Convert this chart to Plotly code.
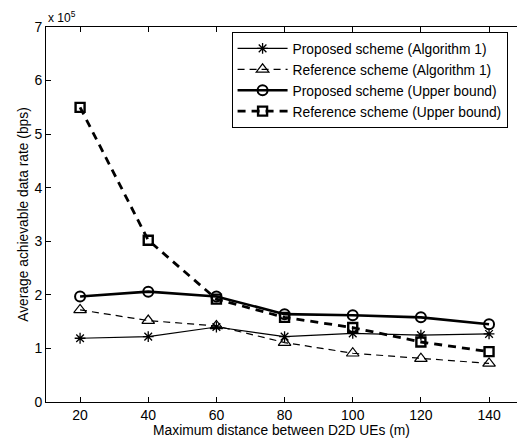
import plotly.graph_objects as go

# Maximum distance between D2D UEs (m)
distance = [20, 40, 60, 80, 100, 120, 140]

# Average achievable data rate, in units of 1e5 bps
proposed_alg1 = [1.19, 1.22, 1.40, 1.22, 1.28, 1.25, 1.27]
reference_alg1 = [1.72, 1.52, 1.42, 1.11, 0.91, 0.81, 0.72]
proposed_upper = [1.97, 2.06, 1.97, 1.64, 1.62, 1.58, 1.45]
reference_upper = [5.50, 3.02, 1.92, 1.58, 1.39, 1.12, 0.94]

x_ticks = [20, 40, 60, 80, 100, 120, 140]
y_ticks = [0, 1, 2, 3, 4, 5, 6, 7]

FONT = "Liberation Sans, Arial, Helvetica, sans-serif"

fig = go.Figure()

fig.add_trace(go.Scatter(
    x=distance, y=proposed_alg1, name="Proposed scheme (Algorithm 1)",
    mode="lines+markers",
    line=dict(color="black", width=1.2),
    marker=dict(symbol="asterisk-open", size=9, color="black",
                line=dict(color="black", width=1.3)),
))
fig.add_trace(go.Scatter(
    x=distance, y=reference_alg1, name="Reference scheme (Algorithm 1)",
    mode="lines+markers",
    line=dict(color="black", width=1.2, dash="7px,5px"),
    marker=dict(symbol="triangle-up-open", size=11, color="black",
                line=dict(color="black", width=1.2)),
))
fig.add_trace(go.Scatter(
    x=distance, y=proposed_upper, name="Proposed scheme (Upper bound)",
    mode="lines+markers",
    line=dict(color="black", width=2.6),
    marker=dict(symbol="circle-open", size=10, color="black",
                line=dict(color="black", width=2)),
))
fig.add_trace(go.Scatter(
    x=distance, y=reference_upper, name="Reference scheme (Upper bound)",
    mode="lines+markers",
    line=dict(color="black", width=2.8, dash="8px,6px"),
    marker=dict(symbol="square-open", size=9, color="black",
                line=dict(color="black", width=2.4)),
))

fig.update_layout(
    width=517, height=445,
    margin=dict(l=46, r=0, t=27, b=43),
    paper_bgcolor="white", plot_bgcolor="white",
    font=dict(family=FONT, size=13, color="black"),
    showlegend=True,
    legend=dict(
        x=0.394, y=0.987, xanchor="left", yanchor="top",
        bgcolor="white", bordercolor="black", borderwidth=1,
        font=dict(family=FONT, size=13.8, color="black"),
        tracegroupgap=0, itemwidth=50,
    ),
    xaxis=dict(
        range=[10, 148.2], tickvals=x_ticks,
        ticks="inside", ticklen=5, tickcolor="black",
        showline=True, linecolor="black", linewidth=1, mirror="ticks",
        showgrid=False, zeroline=False,
        tickfont=dict(family=FONT, size=14),
        title=dict(text="Maximum distance between D2D UEs (m)",
                   font=dict(family=FONT, size=13.8), standoff=2),
    ),
    yaxis=dict(
        range=[0, 7], tickvals=y_ticks,
        ticks="inside", ticklen=5, tickcolor="black",
        showline=True, linecolor="black", linewidth=1, mirror=False,
        showgrid=False, zeroline=False,
        tickfont=dict(family=FONT, size=14),
        title=dict(text="Average achievable data rate (bps)",
                   font=dict(family=FONT, size=13.8), standoff=2),
    ),
    annotations=[dict(
        text="x 10<sup>5</sup>", xref="paper", yref="paper",
        x=0, y=1, xanchor="left", yanchor="bottom", showarrow=False,
        font=dict(family=FONT, size=12),
    )],
)

fig.write_html("out.html")
